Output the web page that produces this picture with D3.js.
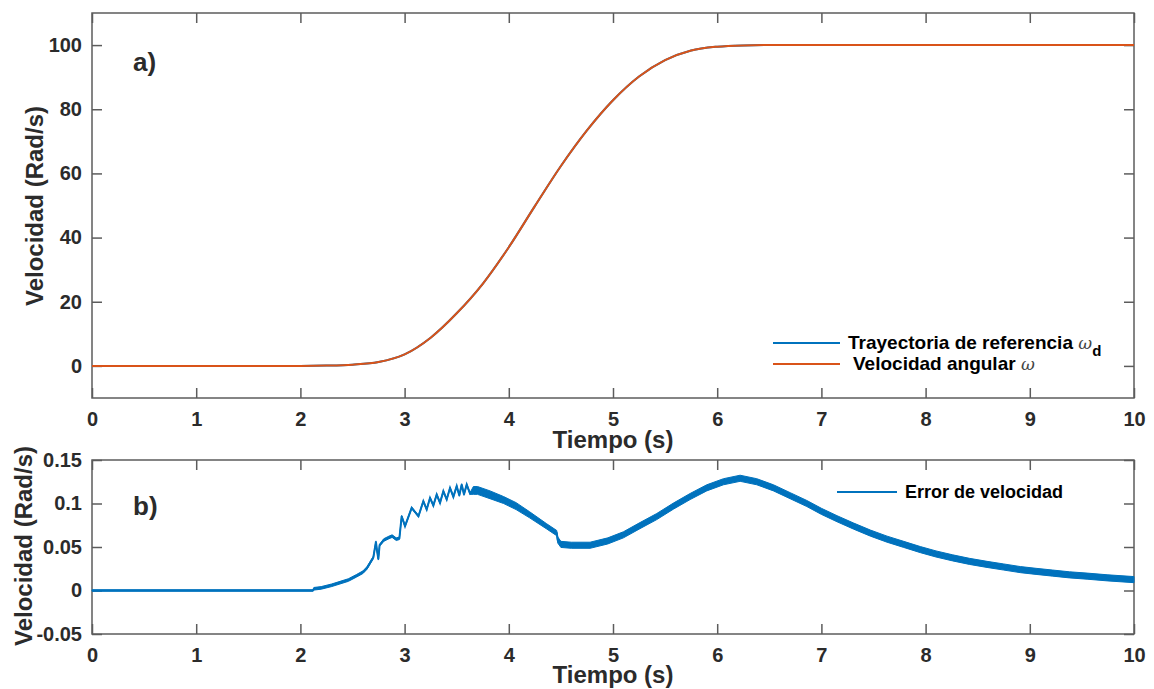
<!DOCTYPE html>
<html>
<head>
<meta charset="utf-8">
<script src="https://cdn.jsdelivr.net/npm/d3@7"></script>
<style>
  body { margin: 0; background: #fff; }
  text { font-family: "Liberation Sans", Arial, Helvetica, sans-serif; }
</style>
</head>
<body>
<script>
// tick values
var timeTicks = [0, 1, 2, 3, 4, 5, 6, 7, 8, 9, 10];
var velTicks = [0, 20, 40, 60, 80, 100];
var errTicks = [-0.05, 0, 0.05, 0.1, 0.15];
var errTickLabels = ["-0.05", "0", "0.05", "0.1", "0.15"];

// a) velocity (rad/s) vs time (s)
var velTime = [0, 0.5, 1, 1.5, 2, 2.25, 2.5, 2.75, 3, 3.25, 3.5, 3.75, 4, 4.25, 4.5, 4.75, 5, 5.25, 5.5, 5.75, 6, 6.25, 6.5, 7, 8, 9, 10];
var velRef = [0, 0, 0, 0, 0, 0.1, 0.4, 1.2, 3.6, 8.8, 16.4, 25.6, 37, 49.8, 62.3, 73.4, 82.8, 90.2, 95.3, 98.3, 99.5, 99.9, 100, 100, 100, 100, 100];
var velMeas = [0, 0, 0, 0, 0, 0.1, 0.4, 1.2, 3.6, 8.8, 16.4, 25.6, 37, 49.8, 62.3, 73.4, 82.8, 90.2, 95.3, 98.3, 99.5, 99.9, 100, 100, 100, 100, 100];

// b) velocity error (rad/s): centre value and half thickness of the noisy trace
var errTime = [0, 2.12, 2.13, 2.2, 2.3, 2.38, 2.46, 2.54, 2.6, 2.64, 2.7, 2.725, 2.735, 2.748, 2.76, 2.8, 2.85, 2.88, 2.92, 2.95,
  2.972, 3.004, 3.068, 3.133, 3.18, 3.212, 3.244, 3.276, 3.308, 3.34, 3.372, 3.404, 3.436, 3.468, 3.5, 3.525, 3.548, 3.57, 3.596, 3.628,
  3.66, 3.7, 3.82, 3.95, 4.07, 4.2, 4.36, 4.46, 4.47, 4.5, 4.6, 4.78, 4.95, 5.1, 5.25, 5.42, 5.58, 5.74, 5.9, 6.06, 6.22, 6.38, 6.54,
  6.7, 6.86, 7, 7.15, 7.31, 7.47, 7.63, 7.79, 7.95, 8.1, 8.26, 8.42, 8.59, 8.75, 8.91, 9.06, 9.22, 9.38, 9.55, 9.75, 10];
var errVal = [0, 0, 0.002, 0.003, 0.006, 0.009, 0.012, 0.017, 0.021, 0.026, 0.038, 0.056, 0.046, 0.036, 0.052, 0.058, 0.061, 0.0625, 0.059, 0.06,
  0.0854, 0.074, 0.095, 0.0854, 0.1027, 0.0931, 0.1065, 0.0977, 0.1103, 0.1008, 0.1142, 0.1046, 0.118, 0.1077, 0.12, 0.1092, 0.1218, 0.1103, 0.1218, 0.1115,
  0.115, 0.115, 0.11, 0.104, 0.097, 0.087, 0.074, 0.066, 0.058, 0.053, 0.052, 0.052, 0.057, 0.064, 0.074, 0.085, 0.097, 0.108, 0.118, 0.125, 0.129, 0.125, 0.118,
  0.109, 0.1, 0.091, 0.0825, 0.074, 0.066, 0.059, 0.053, 0.047, 0.042, 0.0375, 0.0335, 0.03, 0.027, 0.024, 0.022, 0.02, 0.018, 0.0165, 0.0145, 0.0125];
var errBand = [0.0008, 0.0008, 0.0015, 0.0015, 0.0015, 0.0015, 0.0015, 0.0015, 0.0015, 0.0015, 0.0015, 0.001, 0.001, 0.001, 0.001, 0.0015, 0.0015, 0.0015, 0.0015, 0.0015,
  0.001, 0.001, 0.001, 0.001, 0.001, 0.001, 0.001, 0.001, 0.001, 0.001, 0.001, 0.001, 0.001, 0.001, 0.001, 0.001, 0.001, 0.001, 0.001, 0.001,
  0.0045, 0.0045, 0.0045, 0.004, 0.004, 0.0035, 0.003, 0.003, 0.0035, 0.0035, 0.0035, 0.0035, 0.0035, 0.0035, 0.0035, 0.0035, 0.0035, 0.0035, 0.0035, 0.0035, 0.0035, 0.0035, 0.0035,
  0.0035, 0.0035, 0.0035, 0.0035, 0.0035, 0.0035, 0.0035, 0.0035, 0.0035, 0.0035, 0.0035, 0.0035, 0.0035, 0.0035, 0.0035, 0.0035, 0.0035, 0.0035, 0.0035, 0.0035, 0.0035];

var blue = "#0072BD", orange = "#D95319", axisColor = "#5c5c5c", textColor = "#2b2b2b";

var svg = d3.select("body").append("svg")
    .attr("width", 1154)
    .attr("height", 689);

var top1 = {left: 92, top: 13, width: 1042, height: 385};
var bot1 = {left: 92, top: 460, width: 1042, height: 174};

function frame(p, x, y, yTicks, yFormat) {
  var g = svg.append("g").attr("transform", "translate(" + p.left + "," + p.top + ")");

  // bottom axis with labels, ticks pointing inward
  g.append("g").attr("class", "ax")
      .attr("transform", "translate(0," + p.height + ")")
      .call(d3.axisBottom(x).tickValues(timeTicks).tickFormat(d3.format("d"))
        .tickSizeInner(-10).tickSizeOuter(0).tickPadding(14));
  g.append("g").attr("class", "ax")
      .call(d3.axisTop(x).tickValues(timeTicks).tickFormat("")
        .tickSizeInner(-10).tickSizeOuter(0));
  g.append("g").attr("class", "ax")
      .call(d3.axisLeft(y).tickValues(yTicks).tickFormat(yFormat)
        .tickSizeInner(-10).tickSizeOuter(0).tickPadding(10));
  g.append("g").attr("class", "ax")
      .attr("transform", "translate(" + p.width + ",0)")
      .call(d3.axisRight(y).tickValues(yTicks).tickFormat("")
        .tickSizeInner(-10).tickSizeOuter(0));

  g.selectAll(".ax .domain").remove();
  g.selectAll(".ax line").attr("stroke", axisColor).attr("stroke-width", 1.5);
  g.selectAll(".ax text")
      .attr("fill", textColor)
      .style("font-size", "20px")
      .style("font-weight", "bold");

  g.append("rect")
      .attr("width", p.width)
      .attr("height", p.height)
      .attr("fill", "none")
      .attr("stroke", axisColor)
      .attr("stroke-width", 1.5);
  return g;
}

// ---------- a) ----------
var x1 = d3.scaleLinear().domain([0, 10]).range([0, top1.width]);
var y1 = d3.scaleLinear().domain([-10, 110]).range([top1.height, 0]);

var g1 = frame(top1, x1, y1, velTicks, d3.format("d"));

var velLine = function(vals) {
  return d3.line()
    .x(function(d, i) { return x1(velTime[i]); })
    .y(function(d) { return y1(d); })
    .curve(d3.curveMonotoneX)(vals);
};

g1.append("path").attr("d", velLine(velRef))
    .attr("fill", "none").attr("stroke", blue).attr("stroke-width", 2);
g1.append("path").attr("d", velLine(velMeas))
    .attr("fill", "none").attr("stroke", orange).attr("stroke-width", 2);

// ---------- b) ----------
var x2 = d3.scaleLinear().domain([0, 10]).range([0, bot1.width]);
var y2 = d3.scaleLinear().domain([-0.05, 0.15]).range([bot1.height, 0]);

var g2 = frame(bot1, x2, y2, errTicks, function(d, i) { return errTickLabels[i]; });

var errArea = d3.area()
    .x(function(d, i) { return x2(errTime[i]); })
    .y0(function(d, i) { return y2(errVal[i] - errBand[i]); })
    .y1(function(d, i) { return y2(errVal[i] + errBand[i]); });

var errLine = d3.line()
    .x(function(d, i) { return x2(errTime[i]); })
    .y(function(d) { return y2(d); });

g2.append("path").attr("d", errArea(errVal))
    .attr("fill", blue).attr("stroke", blue).attr("stroke-width", 1);
g2.append("path").attr("d", errLine(errVal))
    .attr("fill", "none").attr("stroke", blue).attr("stroke-width", 2);

// ---------- labels ----------
function label(x, y, txt, size, rot) {
  var t = svg.append("text")
      .attr("text-anchor", "middle")
      .attr("fill", textColor)
      .style("font-size", size + "px")
      .style("font-weight", "bold")
      .text(txt);
  if (rot) t.attr("transform", "translate(" + x + "," + y + ") rotate(-90)");
  else t.attr("x", x).attr("y", y);
  return t;
}

label(613, 448, "Tiempo (s)", 24);
label(613, 683, "Tiempo (s)", 24);
label(43, 206, "Velocidad (Rad/s)", 24, true);
label(32, 546, "Velocidad (Rad/s)", 24, true);

svg.append("text").attr("x", 133).attr("y", 71)
    .attr("fill", textColor).style("font-size", "26px").style("font-weight", "bold")
    .text("a)");
svg.append("text").attr("x", 133).attr("y", 515)
    .attr("fill", textColor).style("font-size", "26px").style("font-weight", "bold")
    .text("b)");

// ---------- legends ----------
svg.append("line").attr("x1", 773).attr("x2", 840).attr("y1", 343).attr("y2", 343)
    .attr("stroke", blue).attr("stroke-width", 2);
svg.append("line").attr("x1", 773).attr("x2", 840).attr("y1", 364).attr("y2", 364)
    .attr("stroke", orange).attr("stroke-width", 2);

var l1 = svg.append("text").attr("x", 848).attr("y", 349)
    .attr("fill", "#000").style("font-size", "19px").style("font-weight", "bold");
l1.append("tspan").text("Trayectoria de referencia ");
l1.append("tspan").text("ω")
    .style("font-family", "'DejaVu Serif', serif").style("font-style", "italic")
    .style("font-weight", "normal").style("font-size", "17px").attr("fill", "#444");
l1.append("tspan").text("d").attr("dy", 7).style("font-size", "15px");

var l2 = svg.append("text").attr("x", 853).attr("y", 370)
    .attr("fill", "#000").style("font-size", "19px").style("font-weight", "bold");
l2.append("tspan").text("Velocidad angular ");
l2.append("tspan").text("ω")
    .style("font-family", "'DejaVu Serif', serif").style("font-style", "italic")
    .style("font-weight", "normal").style("font-size", "17px").attr("fill", "#444");

svg.append("line").attr("x1", 837).attr("x2", 897).attr("y1", 492).attr("y2", 492)
    .attr("stroke", blue).attr("stroke-width", 2);
svg.append("text").attr("x", 905).attr("y", 498)
    .attr("fill", "#000").style("font-size", "18px").style("font-weight", "bold")
    .text("Error de velocidad");
</script>
</body>
</html>
